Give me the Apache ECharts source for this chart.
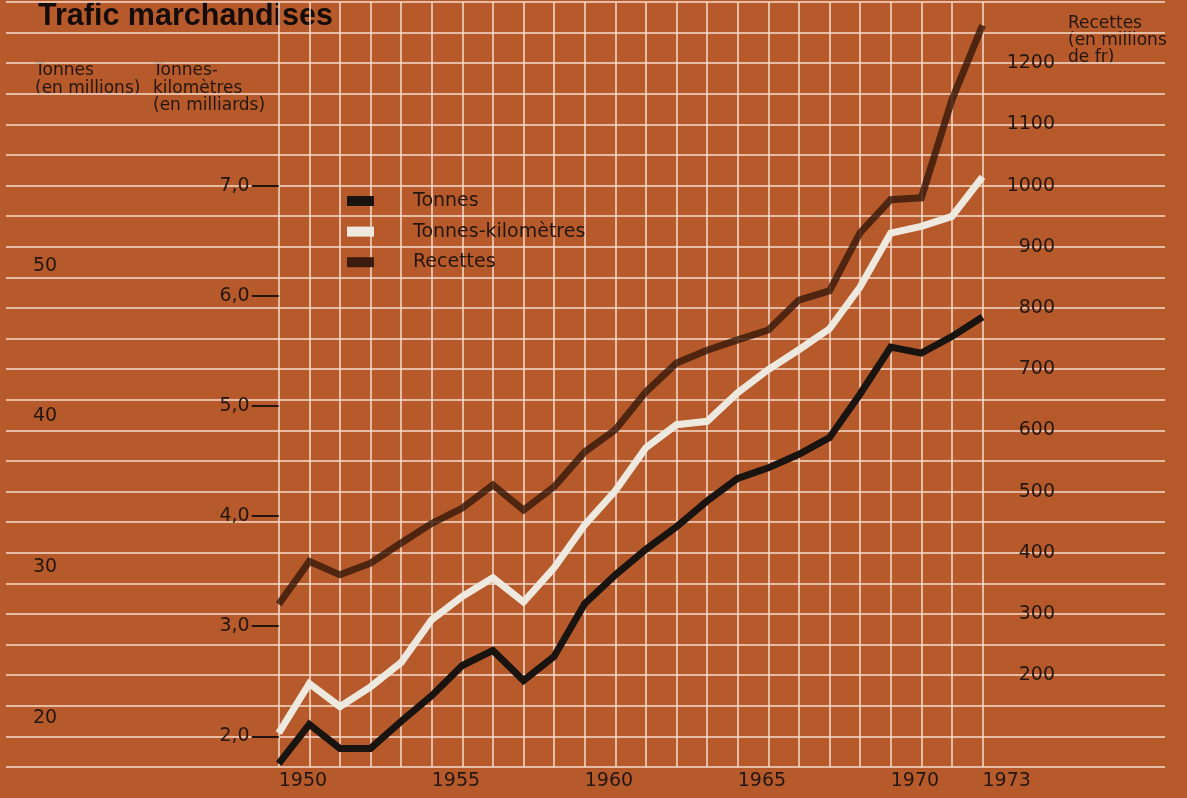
<!DOCTYPE html>
<html>
<head>
<meta charset="utf-8">
<script src="https://cdn.jsdelivr.net/npm/echarts@6/dist/echarts.min.js"></script>
<style>
  html, body { margin: 0; padding: 0; background: #b75a2b; }
  #main { width: 1187px; height: 798px; }
</style>
</head>
<body>
<div id="main"></div>
<script>
// data
var years = ['1950', '1951', '1952', '1953', '1954', '1955', '1956', '1957', '1958', '1959', '1960', '1961',
  '1962', '1963', '1964', '1965', '1966', '1967', '1968', '1969', '1970', '1971', '1972', '1973'];
var tonnes = [17.0, 19.6, 18.0, 18.0, 19.8, 21.5, 23.5, 24.5, 22.5, 24.1, 27.6, 29.5,
  31.2, 32.7, 34.4, 35.9, 36.6, 37.5, 38.6, 41.5, 44.6, 44.2, 45.3, 46.6];
var tonnesKm = [2.03, 2.48, 2.27, 2.45, 2.67, 3.06, 3.27, 3.44, 3.22, 3.53, 3.92, 4.23,
  4.62, 4.83, 4.86, 5.12, 5.33, 5.51, 5.70, 6.08, 6.57, 6.63, 6.72, 7.08];
var recettes = [316, 386, 364, 383, 416, 448, 473, 511, 470, 508, 565, 601,
  663, 710, 731, 748, 764, 813, 828, 923, 977, 980, 1140, 1262];

var yearLabels = ['1950', '1955', '1960', '1965', '1970', '1973'];
var tonnesTicks = [20, 30, 40, 50];
var tkmTicks = [2, 3, 4, 5, 6, 7];
var recettesTicks = [200, 300, 400, 500, 600, 700, 800, 900, 1000, 1100, 1200];

var ink = '#24160e';
var gridColor = '#f4ddcc';
var numFont = 'DejaVu Sans';

var myChart = echarts.init(document.getElementById('main'));

var option = {
  backgroundColor: '#b75a2b',
  animation: false,
  grid: [
    // wide grid only for the horizontal rules
    { left: 6, right: 22, top: 2, bottom: 31 },
    // plot area
    { left: 278.7, right: 204.5, top: 2, bottom: 31 }
  ],
  legend: {
    orient: 'vertical',
    left: 342,
    top: 186,
    itemWidth: 27,
    itemHeight: 10,
    itemGap: 10.6,
    icon: 'rect',
    textStyle: {
      color: ink,
      fontFamily: numFont,
      fontSize: 19,
      lineHeight: 20,
      padding: [0, 0, 0, 34]
    },
    data: ['Tonnes', 'Tonnes-kilomètres', 'Recettes']
  },
  xAxis: [
    { type: 'value', gridIndex: 0, show: false, min: 0, max: 1 },
    {
      type: 'category',
      gridIndex: 1,
      data: years,
      boundaryGap: false,
      axisLine: { show: false },
      axisTick: { show: false },
      splitLine: { show: true, interval: 0, lineStyle: { color: gridColor, width: 1.5 } },
      axisLabel: {
        interval: 0,
        formatter: function (v) { return yearLabels.indexOf(v) >= 0 ? v : ''; },
        align: 'left',
        margin: 5,
        color: ink,
        fontFamily: numFont,
        fontSize: 19
      }
    }
  ],
  yAxis: [
    {
      type: 'value', gridIndex: 0, min: 0, max: 25, interval: 1,
      axisLine: { show: false }, axisTick: { show: false }, axisLabel: { show: false },
      splitLine: { show: true, lineStyle: { color: gridColor, width: 1.5 } }
    },
    {
      // Tonnes (en millions)
      type: 'value', gridIndex: 1, position: 'left',
      min: 16.772, max: 67.478,
      axisLine: { show: false }, axisTick: { show: false }, splitLine: { show: false },
      axisLabel: {
        customValues: tonnesTicks,
        align: 'left',
        margin: 245.7,
        color: ink,
        fontFamily: numFont,
        fontSize: 19,
        formatter: function (v) { return String(v); }
      }
    },
    {
      // Tonnes-kilometres (en milliards)
      type: 'value', gridIndex: 1, position: 'left',
      min: 1.7222, max: 8.6667,
      axisLine: { show: false }, splitLine: { show: false },
      axisTick: {
        show: true,
        customValues: tkmTicks,
        length: 27,
        lineStyle: { color: ink, width: 2 }
      },
      axisLabel: {
        customValues: tkmTicks,
        margin: 29,
        color: ink,
        fontFamily: numFont,
        fontSize: 19,
        formatter: function (v) { return v.toFixed(1).replace('.', ','); }
      }
    },
    {
      // Recettes (en millions de fr)
      type: 'value', gridIndex: 1, position: 'right',
      min: 50, max: 1300,
      axisLine: { show: false }, axisTick: { show: false }, splitLine: { show: false },
      axisLabel: {
        customValues: recettesTicks,
        align: 'right',
        margin: 72.5,
        color: ink,
        fontFamily: numFont,
        fontSize: 19,
        formatter: function (v) { return String(v); }
      }
    }
  ],
  graphic: [
    {
      type: 'text', left: 38, top: 1,
      style: { text: 'Trafic marchandises', font: 'bold 30.5px "Liberation Sans"', fill: '#140c08' }
    },
    {
      type: 'text', left: 35, top: 62,
      style: { text: 'Tonnes\n(en millions)', font: '17px "DejaVu Sans"', lineHeight: 17.5, fill: ink }
    },
    {
      type: 'text', left: 153, top: 62,
      style: { text: 'Tonnes-\nkilomètres\n(en milliards)', font: '17px "DejaVu Sans"', lineHeight: 17.5, fill: ink }
    },
    {
      type: 'text', left: 1068, top: 15,
      style: { text: 'Recettes\n(en millions\nde fr)', font: '17px "DejaVu Sans"', lineHeight: 17, fill: ink }
    }
  ],
  series: [
    {
      name: 'Recettes',
      type: 'line',
      xAxisIndex: 1,
      yAxisIndex: 3,
      data: recettes,
      symbol: 'none',
      color: '#3a1b0d',
      lineStyle: { width: 7, color: 'rgba(52, 24, 10, 0.8)', join: 'miter' },
      z: 3
    },
    {
      name: 'Tonnes-kilomètres',
      type: 'line',
      xAxisIndex: 1,
      yAxisIndex: 2,
      data: tonnesKm,
      symbol: 'none',
      color: '#eee9de',
      lineStyle: { width: 7, color: '#eee9de', join: 'miter' },
      z: 4
    },
    {
      name: 'Tonnes',
      type: 'line',
      xAxisIndex: 1,
      yAxisIndex: 1,
      data: tonnes,
      symbol: 'none',
      color: '#1a1410',
      lineStyle: { width: 7, color: '#1a1410', join: 'miter' },
      z: 5
    }
  ]
};

myChart.setOption(option);
</script>
</body>
</html>
